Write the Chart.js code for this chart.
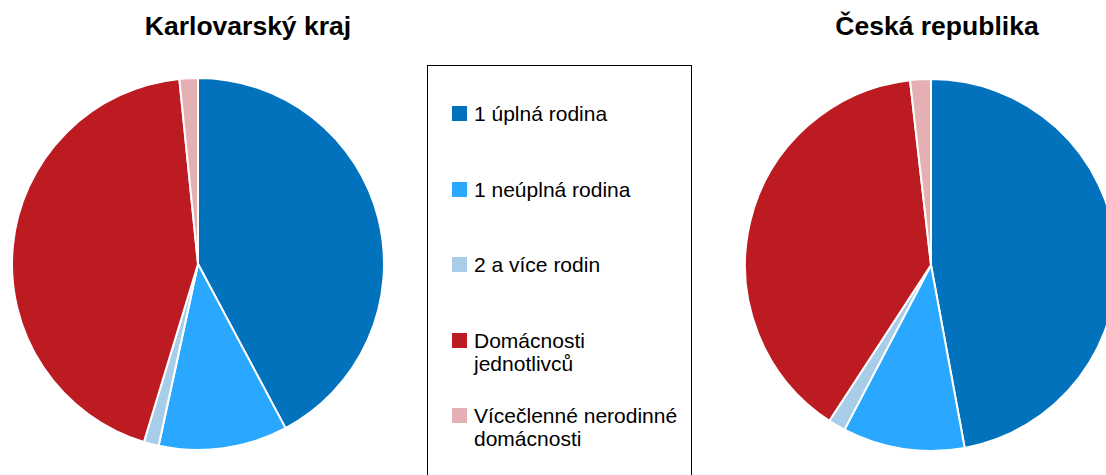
<!DOCTYPE html>
<html lang="cs">
<head>
<meta charset="utf-8">
<script src="https://cdn.jsdelivr.net/npm/chart.js@4"></script>
<style>
    html, body { margin: 0; padding: 0; background: #fff; }
    body { width: 1106px; height: 475px; overflow: hidden; position: relative; font-family: Arial, "Liberation Sans", sans-serif; }
    .title { position: absolute; top: 11px; font-weight: bold; font-size: 26.5px; color: #000; white-space: nowrap; transform: translateX(-50%); }
    canvas { position: absolute; }
    #legend { position: absolute; left: 427px; top: 65px; width: 265px; height: 430px; border: 1px solid #000; box-sizing: border-box; }
    .item { position: absolute; left: 24px; width: 240px; font-size: 21px; line-height: 23px; color: #000; }
    .item span.box { position: absolute; left: 0; top: 4px; width: 15px; height: 15px; }
    .item span.txt { display: block; margin-left: 22px; width: 212px; }
</style>
</head>
<body>
<div class="title" style="left:248px">Karlovarský kraj</div>
<div class="title" style="left:937px">Česká republika</div>
<canvas id="kraj" width="374" height="374" style="left:11px; top:77px"></canvas>
<canvas id="cr" width="374" height="374" style="left:744px; top:78px"></canvas>
<div id="legend"></div>

<script>
const categories = ['1 úplná rodina', '1 neúplná rodina', '2 a více rodin', 'Domácnosti jednotlivců', 'Vícečlenné nerodinné domácnosti'];
const colors = ['#0272BC', '#2AA8FF', '#A8CDE8', '#BD1B22', '#E5B0B3'];
const krajValues = [42.2, 11.2, 1.3, 43.7, 1.6];
const crValues = [47.1, 10.6, 1.5, 39.0, 1.8];

function drawPie(id, values) {
    new Chart(document.getElementById(id), {
        type: 'pie',
        data: {
            labels: categories,
            datasets: [{
                data: values,
                backgroundColor: colors,
                borderColor: '#fff',
                borderWidth: 2
            }]
        },
        options: {
            responsive: false,
            animation: false,
            plugins: {
                legend: { display: false },
                tooltip: { enabled: false }
            }
        }
    });
}

drawPie('kraj', krajValues);
drawPie('cr', crValues);

// legenda uprostred
const legend = document.getElementById('legend');
categories.forEach((label, i) => {
    const item = document.createElement('div');
    item.className = 'item';
    item.style.top = (36 + i * 75.5) + 'px';
    item.innerHTML = `<span class="box" style="background:${colors[i]}"></span><span class="txt">${label}</span>`;
    legend.appendChild(item);
});
</script>
</body>
</html>
